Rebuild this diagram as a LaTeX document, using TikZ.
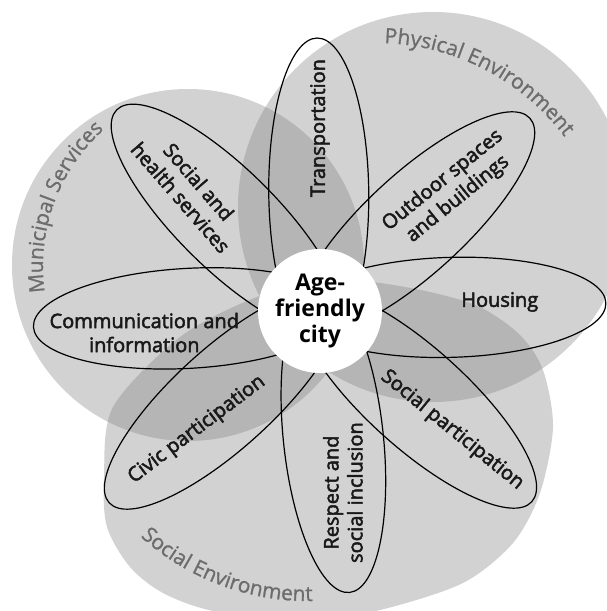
\documentclass[tikz,border=0pt]{standalone}
\usepackage{fontspec}
\setmainfont{Open Sans}
\newfontfamily\petalfont{Open Sans}[FakeBold=2.5]
\newfontfamily\domainface{Open Sans}[FakeBold=1]
\usetikzlibrary{decorations.text}
\definecolor{domainfill}{HTML}{D2D2D2}
\definecolor{overlapfill}{HTML}{B5B5B5}
\definecolor{domaingray}{HTML}{6C6C6C}
\newcommand{\domainfont}{\domainface\fontsize{21}{21}\selectfont\color{domaingray}}
\newcommand{\municipal}{(-132,46) circle [radius=176]}
\newcommand{\physical}{(113,104) circle [radius=195]}
\newcommand{\social}{plot[smooth cycle] coordinates {(10,31) (53,29) (110,19) (160,4) (200,-24) (223,-59) (233,-116) (220,-182) (193,-232) (143,-272) (60,-299) (-20,-311) (-107,-300) (-157,-282) (-190,-256) (-213,-216) (-216,-166) (-207,-96) (-140,-26) (-63,14)}}
\tikzset{
  domainbg/.style={fill=domainfill},
  overlapbg/.style={fill=overlapfill},
  domaintext/.style={decorate,decoration={text along path,text align=center,text={#1}}},
  petal/.style={draw=black,line width=1.2pt},
  petallabel/.style={font=\petalfont\fontsize{20}{24}\selectfont,align=center,text=black!90,inner sep=0pt},
  hub/.style={circle,fill=white,minimum size=124pt,inner sep=0pt,align=center,
    font=\bfseries\fontsize{23}{26}\selectfont}
}
\begin{document}
\begin{tikzpicture}[x=1pt,y=1pt]
  \useasboundingbox (-320,-300) rectangle (287,311);
  \clip (-320,-300) rectangle (287,311);
  \fill[white] (-320,-300) rectangle (287,311);

  % the three domains
  \fill[domainbg] \municipal;
  \fill[domainbg] \physical;
  \fill[domainbg] \social;
  \begin{scope}
    \clip \municipal;
    \fill[overlapbg] \physical;
    \fill[overlapbg] \social;
  \end{scope}
  \begin{scope}
    \clip \physical;
    \fill[overlapbg] \social;
  \end{scope}

  \path[domaintext={|\domainfont|Physical Environment}]
    (56,32) ++(105:236) arc[start angle=105,end angle=20,radius=236];
  \path[domaintext={|\domainfont|Municipal Services}]
    (-94,45) ++(195:183) arc[start angle=195,end angle=125,radius=183];
  \path[domaintext={|\domainfont|Social Environment}]
    (-12,-40) ++(213.5:250) arc[start angle=213.5,end angle=285.5,radius=250];

  % petals
  \draw[petal,rotate=90.6] (118,0) ellipse [x radius=155,y radius=50];
  \draw[petal,rotate=42.6] (130,0) ellipse [x radius=155,y radius=50];
  \draw[petal,rotate=1.6] (131,0) ellipse [x radius=155,y radius=50];
  \draw[petal,rotate=-42] (130,0) ellipse [x radius=155,y radius=50];
  \draw[petal,rotate=-84] (128,0) ellipse [x radius=155,y radius=50];
  \draw[petal,rotate=222.3] (130,0) ellipse [x radius=155,y radius=50];
  \draw[petal,rotate=183.2] (132,0) ellipse [x radius=155,y radius=50];
  \draw[petal,rotate=135.3] (131,0) ellipse [x radius=155,y radius=50];

  \node[hub] (hub) at (0,0) {Age-\\friendly\\city};

  \node[petallabel,rotate=90] (transport) at (90:183) {Transportation};
  \node[petallabel,rotate=39] (outdoor) at (42.9:178) {Outdoor spaces\\and buildings};
  \node[petallabel] (housing) at (2.9:180) {Housing};
  \node[petallabel,rotate=-39] (socpart) at (-42:178) {Social participation};
  \node[petallabel,rotate=90] (respect) at (-82.8:183) {Respect and\\social inclusion};
  \node[petallabel,rotate=37] (civic) at (224:171) {Civic participation};
  \node[petallabel] (commun) at (187:177) {Communication and\\information};
  \node[petallabel,rotate=-49] (health) at (137:178) {Social and\\health services};
\end{tikzpicture}
\end{document}
